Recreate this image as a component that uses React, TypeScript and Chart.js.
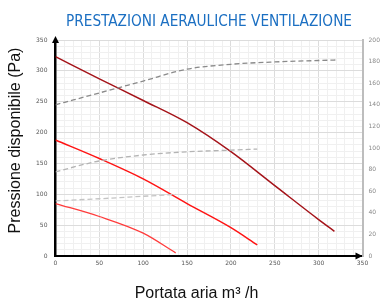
import React, { useEffect, useRef } from "react";
import { Chart, registerables } from "chart.js";

Chart.register(...registerables);

const titleText = "PRESTAZIONI AERAULICHE VENTILAZIONE";
const yTitleText = "Pressione disponibile (Pa)";
const xTitleText = "Portata aria m³ /h";

// Pressure curves (Pa) vs flow (m3/h)
const flowHigh = [0, 50, 100, 150, 200, 250, 300, 318];
const pressHigh = [323, 287, 252, 216, 169, 114, 59, 40];
const flowMid = [0, 50, 100, 150, 200, 230];
const pressMid = [188, 158, 125, 85, 46, 18];
const flowLow = [0, 50, 100, 137];
const pressLow = [85, 64, 37, 5];

// Dashed curves (right axis)
const effFlowHigh = [0, 50, 100, 150, 200, 250, 300, 320];
const effHigh = [140, 151, 162, 173, 177.5, 179.7, 181, 181.5];
const effFlowMid = [0, 50, 100, 150, 200, 230];
const effMid = [78, 88, 93.5, 96.5, 98, 99];
const effFlowLow = [0, 50, 100, 137];
const effLow = [51, 53, 55.3, 57];

const xMax = 350;
const yMax = 350;
const y2Max = 200;

const pts = (xs: number[], ys: number[]) => xs.map((x, i) => ({ x, y: ys[i] }));

const tickFont = { family: "'DejaVu Sans', sans-serif", size: 6 };

const decorPlugin = {
  id: "decor",
  afterDraw(chart: any) {
    const { ctx, chartArea } = chart;
    const { left, right, top, bottom } = chartArea;
    ctx.save();
    ctx.fillStyle = "#000";
    // top arrow
    ctx.beginPath();
    ctx.moveTo(left, top - 4);
    ctx.lineTo(left - 3.5, top + 3);
    ctx.lineTo(left + 3.5, top + 3);
    ctx.closePath();
    ctx.fill();
    // right arrow
    ctx.beginPath();
    ctx.moveTo(right, bottom);
    ctx.lineTo(right - 7, bottom - 3.5);
    ctx.lineTo(right - 7, bottom + 3.5);
    ctx.closePath();
    ctx.fill();

    // main title, fitted to the reference width
    ctx.save();
    ctx.fillStyle = "#1b6fc2";
    ctx.font = "16px 'Liberation Sans Narrow', 'DejaVu Sans Condensed', sans-serif";
    ctx.textAlign = "center";
    ctx.textBaseline = "alphabetic";
    const w = ctx.measureText(titleText).width;
    const sx = Math.min(1, 286 / w);
    ctx.translate(209, 26);
    ctx.scale(sx, 1);
    ctx.fillText(titleText, 0, 0);
    ctx.restore();

    ctx.fillStyle = "#111";
    ctx.textAlign = "center";
    ctx.textBaseline = "alphabetic";
    ctx.font = "16px 'Liberation Sans', Arial, sans-serif";
    ctx.fillText(xTitleText, 196.5, 297.5);

    ctx.translate(19.5, 140.5);
    ctx.rotate(-Math.PI / 2);
    ctx.fillText(yTitleText, 0, 0);
    ctx.restore();
  },
};

const gridColor = (c: any) =>
  c.tick && Math.round(c.tick.value) % 50 === 0 ? "#dcdcdc" : "#f0f0f0";

export default function App() {
  const ref = useRef<HTMLCanvasElement>(null);
  useEffect(() => {
    document.body.style.margin = "0";
    const dashed = (data: any, color: string) => ({
      type: "line" as const,
      data,
      borderColor: color,
      borderWidth: 1.3,
      borderDash: [5, 3],
      pointRadius: 0,
      cubicInterpolationMode: "monotone" as const,
      yAxisID: "y2",
      fill: false,
    });
    const solid = (data: any, color: string, w: number) => ({
      type: "line" as const,
      data,
      borderColor: color,
      borderWidth: w,
      pointRadius: 0,
      cubicInterpolationMode: "monotone" as const,
      yAxisID: "y",
      fill: false,
    });
    const chart = new Chart(ref.current!, {
      type: "line",
      data: {
        datasets: [
          dashed(pts(effFlowHigh, effHigh), "#8a8a8a"),
          dashed(pts(effFlowMid, effMid), "#b4b4b4"),
          dashed(pts(effFlowLow, effLow), "#c4c4c4"),
          solid(pts(flowHigh, pressHigh), "#a5141a", 1.5),
          solid(pts(flowMid, pressMid), "#ff1414", 1.5),
          solid(pts(flowLow, pressLow), "#ff3c3c", 1.3),
        ],
      },
      options: {
        animation: false,
        responsive: false,
        layout: { padding: { top: 40, left: 0, right: 0, bottom: 0 } },
        plugins: { legend: { display: false }, tooltip: { enabled: false } },
        scales: {
          x: {
            type: "linear",
            min: 0,
            max: xMax,
            afterFit: (s: any) => {
              s.height = 48;
            },
            ticks: {
              stepSize: 10,
              autoSkip: false,
              maxRotation: 0,
              padding: 4,
              color: "#555",
              font: tickFont,
              callback: (v: any) => (Math.round(v) % 50 === 0 ? String(v) : ""),
            },
            grid: { color: gridColor, drawTicks: false, lineWidth: 1 },
            border: { color: "#000", width: 2 },
          },
          y: {
            type: "linear",
            position: "left",
            min: 0,
            max: yMax,
            afterFit: (s: any) => {
              s.width = 55.5;
            },
            ticks: {
              stepSize: 10,
              autoSkip: false,
              padding: 8,
              color: "#555",
              font: tickFont,
              callback: (v: any) => (Math.round(v) % 50 === 0 ? String(v) : ""),
            },
            grid: { color: gridColor, drawTicks: false, lineWidth: 1 },
            border: { color: "#000", width: 2.5 },
          },
          y2: {
            type: "linear",
            position: "right",
            min: 0,
            max: y2Max,
            afterFit: (s: any) => {
              s.width = 22.5;
            },
            ticks: {
              stepSize: 20,
              padding: 6,
              color: "#888",
              font: tickFont,
            },
            grid: { display: false, drawTicks: false },
            border: { color: "#bdbdbd", width: 2 },
          },
        },
      },
      plugins: [decorPlugin],
    });
    return () => chart.destroy();
  }, []);
  return (
    <div style={{ position: "absolute", left: 0, top: 0, width: 385, height: 304 }}>
      <canvas ref={ref} width={385} height={304} style={{ width: 385, height: 304 }} />
    </div>
  );
}
